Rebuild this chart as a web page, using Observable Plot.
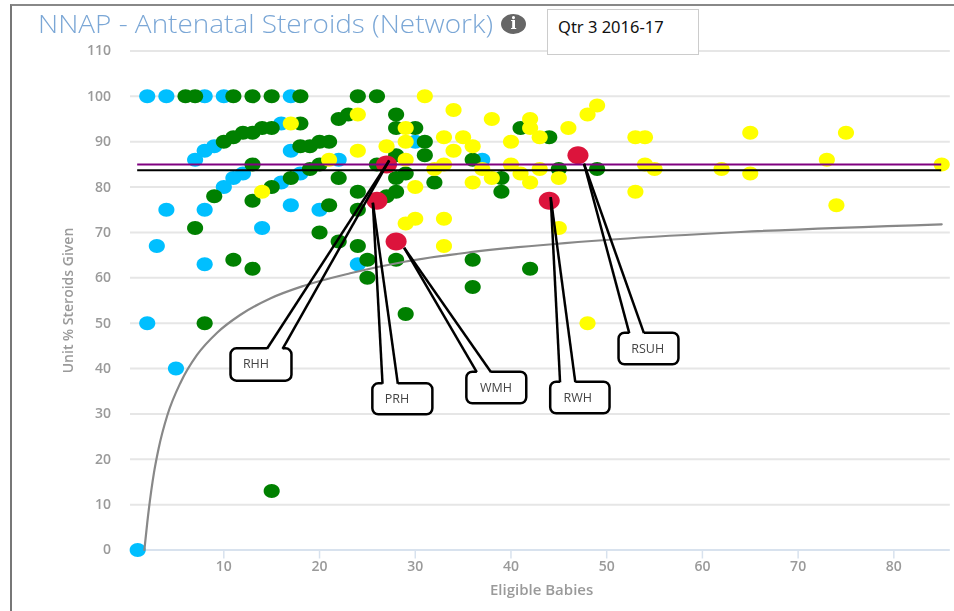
<!DOCTYPE html>
<html>
<head>
<meta charset="utf-8">
<script src="https://cdn.jsdelivr.net/npm/d3@7"></script>
<script src="https://cdn.jsdelivr.net/npm/@observablehq/plot@0.6"></script>
<style>
  html, body { margin: 0; padding: 0; background: #fff; }
  #wrap { position: relative; width: 954px; height: 611px; overflow: hidden; font-family: "Open Sans", sans-serif; filter: blur(0.4px); }
  #frame { position: absolute; left: 9.5px; top: 3.5px; right: -5px; bottom: -5px; border-left: 2px solid #777; border-top: 2px solid #888; pointer-events: none; }
  #title { position: absolute; left: 38px; top: 6px; font-size: 25.5px; line-height: 34px; font-weight: 300; color: #7ba7d6; white-space: nowrap; z-index: 2; transform: scaleX(1.095); transform-origin: left center; }
  #info { position: absolute; left: 501px; top: 14px; width: 25px; height: 20px; border-radius: 50%; background: #666; color: #fff; font: bold 16px/20px "DejaVu Serif", serif; text-align: center; z-index: 2; }
  #period { position: absolute; left: 547px; top: 9px; border: 1px solid #ccc; background: #fff; font: 16.5px/33px "Noto Sans", sans-serif; color: #111; padding-left: 10px; box-sizing: border-box; width: 152px; height: 46px; z-index: 2; }
  svg { position: absolute; left: 0; top: 0; }
</style>
</head>
<body>
<div id="wrap">
  <div id="title">NNAP - Antenatal Steroids (Network)</div>
  <div id="info">i</div>
  <div id="period">Qtr 3 2016-17</div>
  <div id="frame"></div>
</div>
<script>
const yTicks = [0, 10, 20, 30, 40, 50, 60, 70, 80, 90, 100, 110];
const xTicks = [10, 20, 30, 40, 50, 60, 70, 80];

const bluePoints = [[2,100],[4,100],[8,100],[10,100],[17,100],[16,94],[9,89],[8,88],[7,86],[17,88],[22,86],[12,83],[11,82],[10,80],[16,81],[18,83],[4,75],[8,75],[17,76],[20,75],[14,71],[3,67],[8,63],[2,50],[5,40],[1,0],[24,63],[30,90],[37,86]];
const greenPoints = [[6,100],[7,100],[11,100],[13,100],[15,100],[18,100],[24,100],[26,100],[18,94],[22,95],[23,96],[15,93],[14,93],[13,92],[12,92],[11,91],[10,90],[18,89],[19,89],[20,90],[21,90],[13,85],[19,84],[20,85],[17,82],[22,82],[15,80],[24,79],[13,77],[9,78],[21,76],[24,75],[7,71],[20,70],[22,68],[24,67],[11,64],[13,62],[8,50],[15,13],[28,96],[28,93],[30,93],[31,90],[31,87],[28,87],[26,85],[29,83],[28,82],[32,81],[28,79],[27,78],[36,86],[39,82],[39,79],[41,93],[44,91],[45,84],[49,84],[25,64],[28,64],[25,60],[36,64],[42,62],[36,58],[29,52]];
const yellowPoints = [[17,94],[14,79],[21,86],[24,88],[24,96],[31,100],[34,97],[38,95],[42,95],[42,93],[48,96],[49,98],[46,93],[29,93],[29,90],[33,91],[35,91],[36,89],[34,88],[40,90],[43,91],[27,89],[29,86],[33,85],[32,84],[37,84],[38,82],[36,81],[40,85],[41,83],[42,81],[43,84],[45,82],[30,80],[30,73],[29,72],[33,73],[33,67],[45,71],[48,50],[53,91],[54,91],[65,92],[75,92],[54,85],[55,84],[62,84],[65,83],[73,86],[85,85],[53,79],[74,76]];
const redPoints = [[27,85],[26,77],[28,68],[44,77],[47,87]];

const limitCurve = [[1.7,0],[2,6],[2.7,17],[3.2,22.5],[4.1,29.7],[5.5,37],[7.2,43],[9.3,47.9],[11.7,51.8],[14.9,55.5],[18.3,58.2],[23.2,61],[29,63.6],[36,65.7],[51,68.5],[64,70.1],[85,71.8]];
const lineSpan = [1, 85];
const purpleLevel = 85;
const blackLevel = 83.7;

const calloutNames = ["RHH", "PRH", "WMH", "RWH", "RSUH"];
const boxLeft   = [10.75, 25.57, 35.39, 44.15, 51.29];
const boxRight  = [17.12, 31.84, 41.65, 50.35, 57.55];
const boxTop    = [44.36, 36.64, 39.2, 36.99, 47.8];
const boxBottom = [37.21, 29.81, 32.23, 30.03, 40.83];
const gapLeft   = [14.51, 26.58, 36.43, 45.13, 52.36];
const gapRight  = [16.14, 28.18, 37.92, 46.72, 53.89];
const tipX      = [27.28, 25.57, 28.84, 44.15, 47.63];
const tipY      = [85.87, 76.54, 66.62, 77.78, 85.14];
const labelX    = [13.36, 28.08, 38.44, 46.97, 54.28];
const labelY    = [40.9, 33.18, 35.82, 33.55, 44.27];

const ellipse = (aspect) => ({
  draw(ctx, size) {
    const ry = Math.sqrt(size / Math.PI), rx = ry * aspect, k = 0.5523;
    ctx.moveTo(rx, 0);
    ctx.bezierCurveTo(rx, k * ry, k * rx, ry, 0, ry);
    ctx.bezierCurveTo(-k * rx, ry, -rx, k * ry, -rx, 0);
    ctx.bezierCurveTo(-rx, -k * ry, -k * rx, -ry, 0, -ry);
    ctx.bezierCurveTo(k * rx, -ry, rx, -k * ry, rx, 0);
    ctx.closePath();
  }
});
const dots = (points, fill, r, aspect) => Plot.dot(points, {
  x: d => d[0], y: d => d[1], r, fill, stroke: "none", symbol: ellipse(aspect)
});
const idx = calloutNames.map((_, i) => i);
const edgeLeft = 0.25, edgeRight = 85.9;
const axisColor = "#9a9a9a";

const chart = Plot.plot({
  width: 954,
  height: 611,
  marginLeft: 127.6,
  marginRight: 12.8,
  marginTop: 50.5,
  marginBottom: 61.5,
  style: { background: "transparent", fontFamily: "'Open Sans', sans-serif", fontSize: "14px" },
  x: { domain: [0, 85] },
  y: { domain: [0, 110] },
  marks: [
    Plot.ruleY(yTicks.filter(d => d > 0), { x1: edgeLeft, x2: edgeRight, stroke: "#e6e6e6", strokeWidth: 2 }),
    Plot.ruleY([0], { x1: 1, x2: edgeRight, stroke: "#d8e2ee", strokeWidth: 2 }),
    Plot.axisY({ ticks: yTicks, tickSize: 0, tickPadding: 17, color: axisColor, fontWeight: 600,
      label: "Unit % Steroids Given", labelAnchor: "center", labelArrow: "none", labelOffset: 65 }),
    Plot.axisX({ ticks: xTicks, tickSize: 9, tickPadding: 3, stroke: "#d8e2ee", strokeWidth: 1.5, tickFormat: () => "", label: null }),
    Plot.axisX({ ticks: xTicks, tickSize: 0, tickPadding: 11, color: axisColor, fontWeight: 600, tickFormat: d => d, label: null }),
    Plot.text(["Eligible Babies"], { x: 43.2, y: -8.9, fill: axisColor, fontWeight: 600, fontSize: 15 }),
    dots(bluePoints, "#00bfff", 7, 1.15),
    dots(greenPoints, "#008000", 7, 1.15),
    dots(yellowPoints, "#ffff00", 7, 1.15),
    Plot.line(limitCurve, { x: d => d[0], y: d => d[1], stroke: "#888", strokeWidth: 2.2, curve: "monotone-x" }),
    dots(redPoints, "#dc143c", 9, 1.17),
    Plot.ruleY([purpleLevel], { x1: lineSpan[0], x2: lineSpan[1], stroke: "#800080", strokeWidth: 2 }),
    Plot.ruleY([blackLevel], { x1: lineSpan[0], x2: lineSpan[1], stroke: "#000", strokeWidth: 2 }),
    Plot.rect(idx, { x1: i => boxLeft[i], x2: i => boxRight[i], y1: i => boxBottom[i], y2: i => boxTop[i], fill: "#fff", stroke: "#000", strokeWidth: 2.5, rx: 6 }),
    Plot.link(idx, { x1: i => gapLeft[i], x2: i => gapRight[i], y1: i => boxTop[i], y2: i => boxTop[i], stroke: "#fff", strokeWidth: 4.5, strokeLinecap: "butt" }),
    Plot.link(idx, { x1: i => gapLeft[i], x2: i => tipX[i], y1: i => boxTop[i], y2: i => tipY[i], stroke: "#000", strokeWidth: 2.5 }),
    Plot.link(idx, { x1: i => gapRight[i], x2: i => tipX[i], y1: i => boxTop[i], y2: i => tipY[i], stroke: "#000", strokeWidth: 2.5 }),
    Plot.text(idx, { x: i => labelX[i], y: i => labelY[i], text: i => calloutNames[i], fill: "#444", fontSize: 12.5 })
  ]
});
document.getElementById("wrap").prepend(chart);
</script>
</body>
</html>
